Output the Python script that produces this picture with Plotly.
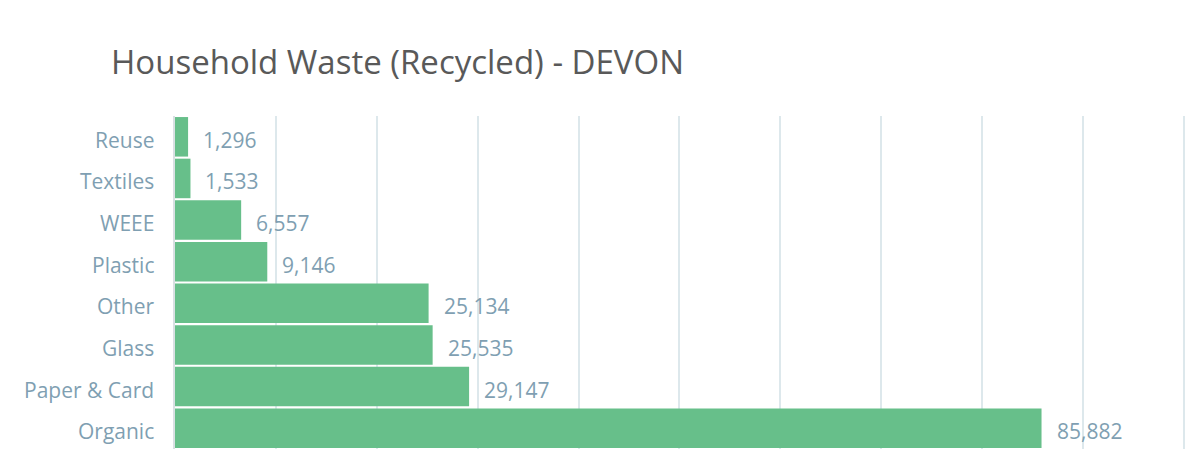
import plotly.graph_objects as go

categories = ["Organic", "Paper & Card", "Glass", "Other", "Plastic", "WEEE", "Textiles", "Reuse"]
values = [85882, 29147, 25535, 25134, 9146, 6557, 1533, 1296]
title_text = "Household Waste (Recycled) - DEVON"

BAR_COLOR = "#67bf8a"
LABEL_COLOR = "#7f9fb2"
FONT = "Open Sans"

fig = go.Figure(go.Bar(
    x=values,
    y=categories,
    orientation="h",
    marker=dict(color=BAR_COLOR, line=dict(width=0)),
    hoverinfo="skip",
))

for c, v in zip(categories, values):
    fig.add_annotation(
        x=v, y=c, xref="x", yref="y",
        text=f"{v:,}", showarrow=False,
        xanchor="left", yanchor="middle", xshift=13, yshift=-3,
        font=dict(family=FONT, size=21, color=LABEL_COLOR),
    )
    fig.add_annotation(
        x=0, y=c, xref="paper", yref="y",
        text=c, showarrow=False,
        xanchor="right", yanchor="middle", xshift=-19, yshift=-3,
        font=dict(family=FONT, size=21, color=LABEL_COLOR),
    )

fig.update_layout(
    width=1200, height=472,
    margin=dict(l=167, r=22, t=108, b=31),
    paper_bgcolor="white", plot_bgcolor="white",
    bargap=0.05,
    showlegend=False,
    title=dict(
        text=title_text, xref="container", yref="container",
        x=103/1200, xanchor="left", y=1-54/472, yanchor="middle",
        font=dict(family=FONT, size=33, color="#595959"),
    ),
    xaxis=dict(
        range=[0, 100200], dtick=10000, showticklabels=False,
        showgrid=True, gridcolor="#dde8ec", gridwidth=2,
        zeroline=False, showline=False, fixedrange=True,
    ),
    yaxis=dict(
        categoryorder="array", categoryarray=categories,
        showgrid=False, zeroline=False,
        showline=True, linecolor="#d9e0e3", linewidth=2,
        ticks="", showticklabels=False,
    ),
)

fig.write_html("out.html")
